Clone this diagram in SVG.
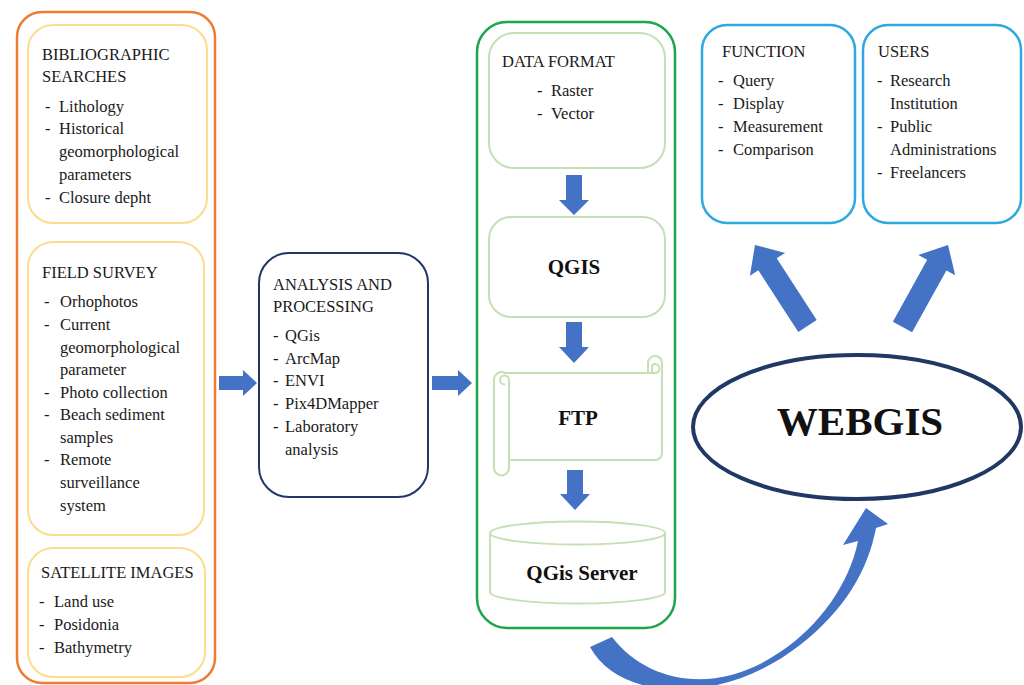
<svg xmlns="http://www.w3.org/2000/svg" width="1024" height="685" viewBox="0 0 1024 685">
<style>
  .t{font-family:"Liberation Serif","Times New Roman",serif;font-size:16.5px;fill:#1a1a1a}
  .h{font-family:"Liberation Serif","Times New Roman",serif;font-size:21px;font-weight:bold;fill:#111;text-anchor:middle}
  .orange{fill:none;stroke:#ed7d31;stroke-width:2.5}
  .yellow{fill:#fff;stroke:#fbdd8e;stroke-width:2}
  .navy{fill:#fff;stroke:#1f3864;stroke-width:2}
  .green{fill:none;stroke:#1ca64c;stroke-width:2.5}
  .lgreen{fill:#fff;stroke:#c5e0b4;stroke-width:2}
  .blue{fill:#fff;stroke:#2ea8e0;stroke-width:2.5}
  .arr{fill:#4472c4}
</style>
<rect width="1024" height="685" fill="#fff"/>

<g id="sources">
  <rect class="orange" x="17" y="12" width="198" height="671" rx="25"/>
</g>

<g id="bibliographic">
  <rect class="yellow" x="28" y="25" width="179" height="198" rx="25"/>
  <text class="t" x="42" y="60">BIBLIOGRAPHIC</text>
  <text class="t" x="42" y="82">SEARCHES</text>
  <text class="t" x="45" y="112">-</text><text class="t" x="59" y="112">Lithology</text>
  <text class="t" x="45" y="134">-</text><text class="t" x="59" y="134">Historical</text>
  <text class="t" x="59" y="157">geomorphological</text>
  <text class="t" x="59" y="180">parameters</text>
  <text class="t" x="45" y="203">-</text><text class="t" x="59" y="203">Closure depht</text>
</g>

<g id="field-survey">
  <rect class="yellow" x="28" y="242" width="176" height="293" rx="25"/>
  <text class="t" x="42" y="278">FIELD SURVEY</text>
  <text class="t" x="44" y="307">-</text><text class="t" x="60" y="307">Orhophotos</text>
  <text class="t" x="44" y="330">-</text><text class="t" x="60" y="330">Current</text>
  <text class="t" x="60" y="353">geomorphological</text>
  <text class="t" x="60" y="375">parameter</text>
  <text class="t" x="44" y="398">-</text><text class="t" x="60" y="398">Photo collection</text>
  <text class="t" x="44" y="420">-</text><text class="t" x="60" y="420">Beach sediment</text>
  <text class="t" x="60" y="443">samples</text>
  <text class="t" x="44" y="465">-</text><text class="t" x="60" y="465">Remote</text>
  <text class="t" x="60" y="488">surveillance</text>
  <text class="t" x="60" y="511">system</text>
</g>

<g id="satellite">
  <rect class="yellow" x="28" y="548" width="177" height="129" rx="25"/>
  <text class="t" x="41" y="578">SATELLITE IMAGES</text>
  <text class="t" x="39" y="607">-</text><text class="t" x="54" y="607">Land use</text>
  <text class="t" x="39" y="630">-</text><text class="t" x="54" y="630">Posidonia</text>
  <text class="t" x="39" y="653">-</text><text class="t" x="54" y="653">Bathymetry</text>
</g>

<g id="analysis">
  <rect class="navy" x="259" y="253" width="169" height="244" rx="30"/>
  <text class="t" x="273" y="290">ANALYSIS AND</text>
  <text class="t" x="273" y="312">PROCESSING</text>
  <text class="t" x="273" y="341">-</text><text class="t" x="285" y="341">QGis</text>
  <text class="t" x="273" y="364">-</text><text class="t" x="285" y="364">ArcMap</text>
  <text class="t" x="273" y="386">-</text><text class="t" x="285" y="386">ENVI</text>
  <text class="t" x="273" y="409">-</text><text class="t" x="285" y="409">Pix4DMapper</text>
  <text class="t" x="273" y="432">-</text><text class="t" x="285" y="432">Laboratory</text>
  <text class="t" x="285" y="455">analysis</text>
</g>

<g id="server-side">
  <rect class="green" x="477" y="22" width="198" height="606" rx="30"/>
</g>

<g id="data-format">
  <rect class="lgreen" x="489" y="33" width="176" height="135" rx="25"/>
  <text class="t" x="502" y="67">DATA FORMAT</text>
  <text class="t" x="537" y="96">-</text><text class="t" x="551" y="96">Raster</text>
  <text class="t" x="537" y="119">-</text><text class="t" x="551" y="119">Vector</text>
</g>

<g id="qgis">
  <rect class="lgreen" x="489" y="217" width="176" height="100" rx="22"/>
  <text class="h" x="574" y="274">QGIS</text>
</g>

<g id="ftp">
  <path class="lgreen" d="M505 373 H648 V363 A7 7 0 0 1 662 363 V453 A7 7 0 0 1 655 460 H509 V468 A7.5 7.5 0 0 1 494 468 V380 A7.5 7.5 0 0 1 505 373 Z"/>
  <path fill="none" stroke="#c5e0b4" stroke-width="2" d="M509 460 V380 A4.5 4.5 0 0 0 500 380 A4.5 4.5 0 0 0 505 384.5"/>
  <path fill="none" stroke="#c5e0b4" stroke-width="2" d="M648 373 H655 A4.5 4.5 0 0 0 655 364 A3 3 0 0 0 652 367 V373"/>
  <text class="h" x="578" y="425">FTP</text>
</g>

<g id="qgis-server">
  <path class="lgreen" d="M490 533 V592 A87.5 11.5 0 0 0 665 592 V533"/>
  <ellipse class="lgreen" cx="577.5" cy="533" rx="87.5" ry="11.5"/>
  <text class="h" x="582" y="580">QGis Server</text>
</g>

<g id="function">
  <rect class="blue" x="702" y="25" width="153" height="198" rx="25"/>
  <text class="t" x="722" y="57">FUNCTION</text>
  <text class="t" x="718" y="86">-</text><text class="t" x="733" y="86">Query</text>
  <text class="t" x="718" y="109">-</text><text class="t" x="733" y="109">Display</text>
  <text class="t" x="718" y="132">-</text><text class="t" x="733" y="132">Measurement</text>
  <text class="t" x="718" y="155">-</text><text class="t" x="733" y="155">Comparison</text>
</g>

<g id="users">
  <rect class="blue" x="863" y="25" width="158" height="198" rx="25"/>
  <text class="t" x="878" y="57">USERS</text>
  <text class="t" x="877" y="86">-</text><text class="t" x="890" y="86">Research</text>
  <text class="t" x="890" y="109">Institution</text>
  <text class="t" x="877" y="132">-</text><text class="t" x="890" y="132">Public</text>
  <text class="t" x="890" y="155">Administrations</text>
  <text class="t" x="877" y="178">-</text><text class="t" x="890" y="178">Freelancers</text>
</g>

<g id="webgis">
  <ellipse cx="857" cy="427" rx="164" ry="72" fill="#fff" stroke="#203864" stroke-width="4"/>
  <text x="860" y="435" font-family="Liberation Serif, Times New Roman, serif" font-size="41" font-weight="bold" fill="#111" text-anchor="middle">WEBGIS</text>
</g>

<g id="connectors">
  <polygon class="arr" points="219,376 243,376 243,370 257,383 243,396 243,390 219,390"/>
  <polygon class="arr" points="432,376 458,376 458,370 472,383 458,396 458,390 432,390"/>
  <polygon class="arr" points="566,175 582,175 582,200 589,200 574,215 559,200 566,200"/>
  <polygon class="arr" points="566,322 582,322 582,347 589,347 574,363 559,347 566,347"/>
  <polygon class="arr" points="567,470 583,470 583,494 590,494 575,510 560,494 567,494"/>
  <polygon class="arr" points="798.3,332 816.7,320 776.7,258.3 785.1,252.9 755,245 749.9,275.7 758.3,270.3"/>
  <polygon class="arr" points="892.9,321.7 927.2,259.8 918.4,254.9 948,245 955.2,275.3 946.4,270.4 912.1,332.3"/>
  <path class="arr" d="M590 647 C620 702 722 706 800 645 C845 610 868 570 876 528 L888 524 L866 508 L843 545 L858 541 C850 582 820 626 780 652 C720 694 650 686 612 637 Z"/>
</g>
</svg>
